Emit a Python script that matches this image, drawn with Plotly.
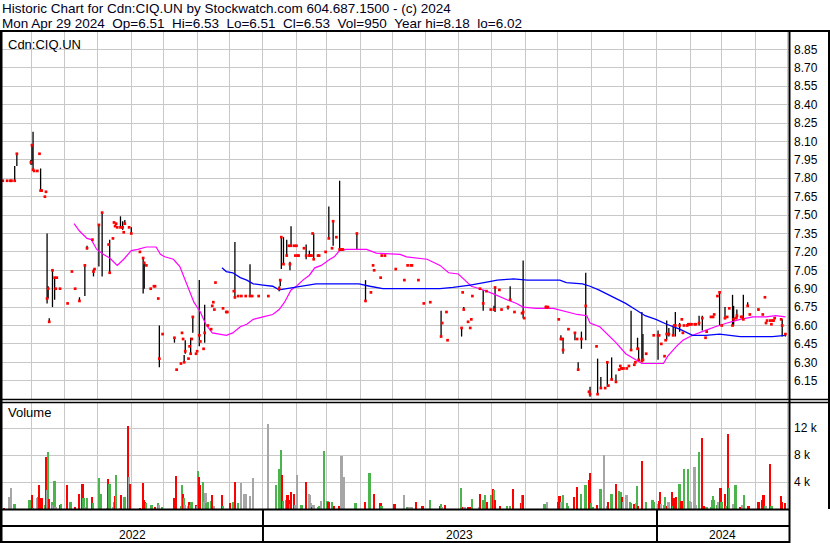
import pandas as pd
import plotly.graph_objects as go

W, H = 830, 543

# ---------------- data ----------------
close_dates = [
    "2022-05-05","2022-05-09","2022-05-12","2022-05-13","2022-05-16","2022-05-18","2022-05-31","2022-06-01","2022-06-02","2022-06-03",
    "2022-06-06","2022-06-08","2022-06-09","2022-06-10","2022-06-13","2022-06-14","2022-06-15","2022-06-16","2022-06-17","2022-06-20",
    "2022-06-22","2022-06-23","2022-06-24","2022-06-27","2022-07-04","2022-07-08","2022-07-11","2022-07-15","2022-07-20","2022-07-22",
    "2022-07-27","2022-07-28","2022-07-29","2022-08-02","2022-08-05","2022-08-11","2022-08-12","2022-08-15","2022-08-16","2022-08-17",
    "2022-08-18","2022-08-19","2022-08-22","2022-08-24","2022-08-25","2022-08-26","2022-08-30","2022-09-01","2022-09-09","2022-09-12",
    "2022-09-13","2022-09-15","2022-09-19","2022-09-22","2022-09-23","2022-09-26","2022-09-27","2022-09-30","2022-10-11","2022-10-13",
    "2022-10-17","2022-10-18","2022-10-19","2022-10-20","2022-10-21","2022-10-24","2022-10-25","2022-10-26","2022-10-27","2022-10-28",
    "2022-10-31","2022-11-01","2022-11-03","2022-11-04","2022-11-07","2022-11-08","2022-11-11","2022-11-14","2022-11-15","2022-11-16",
    "2022-11-17","2022-11-18","2022-11-25","2022-11-28","2022-11-29","2022-12-05","2022-12-06","2022-12-09","2022-12-12","2022-12-16",
    "2022-12-20","2022-12-22","2022-12-28",
    "2023-01-06","2023-01-16","2023-01-17","2023-01-18","2023-01-20","2023-01-23","2023-01-25","2023-01-26","2023-01-27","2023-01-30",
    "2023-01-31","2023-02-01","2023-02-02","2023-02-03","2023-02-08","2023-02-10","2023-02-13","2023-02-14","2023-02-15","2023-02-16",
    "2023-02-17","2023-02-21","2023-02-22","2023-02-28","2023-03-03","2023-03-06","2023-03-07","2023-03-10","2023-03-13","2023-03-14",
    "2023-03-15","2023-03-16","2023-03-29","2023-04-06","2023-04-11","2023-04-13","2023-04-14","2023-04-20","2023-04-21","2023-04-24",
    "2023-05-04","2023-05-12","2023-05-15","2023-05-18","2023-05-19","2023-05-25","2023-05-30","2023-06-05","2023-06-15","2023-06-16",
    "2023-06-20","2023-06-21","2023-07-04","2023-07-05","2023-07-06","2023-07-10","2023-07-12","2023-07-13","2023-07-14","2023-07-21",
    "2023-07-24","2023-07-27","2023-07-31","2023-08-03","2023-08-04","2023-08-08","2023-08-10","2023-08-16","2023-08-18","2023-08-22",
    "2023-08-29","2023-08-30","2023-08-31","2023-09-20","2023-09-21","2023-09-22","2023-10-02","2023-10-04","2023-10-05","2023-10-06",
    "2023-10-11","2023-10-17","2023-10-19","2023-10-20","2023-10-23","2023-10-27","2023-10-30","2023-10-31","2023-11-06","2023-11-07",
    "2023-11-10","2023-11-14","2023-11-16","2023-11-17","2023-11-20","2023-11-24","2023-11-27","2023-11-28","2023-11-29","2023-11-30",
    "2023-12-01","2023-12-04","2023-12-06","2023-12-08","2023-12-11","2023-12-12","2023-12-14","2023-12-15","2023-12-18","2023-12-19",
    "2023-12-22","2023-12-29",
    "2024-01-02","2024-01-03","2024-01-05","2024-01-08","2024-01-09","2024-01-10","2024-01-12","2024-01-16","2024-01-17","2024-01-18",
    "2024-01-22","2024-01-24","2024-01-25","2024-01-26","2024-01-29","2024-01-30","2024-01-31","2024-02-01","2024-02-02","2024-02-05",
    "2024-02-06","2024-02-09","2024-02-12","2024-02-15","2024-02-16","2024-02-20","2024-02-22","2024-02-23","2024-02-26","2024-02-28",
    "2024-03-01","2024-03-04","2024-03-06","2024-03-08","2024-03-11","2024-03-12","2024-03-14","2024-03-15","2024-03-19","2024-03-20",
    "2024-03-21","2024-03-25","2024-03-27","2024-04-04","2024-04-08","2024-04-10","2024-04-11","2024-04-12","2024-04-15","2024-04-16",
    "2024-04-17","2024-04-18","2024-04-19","2024-04-25","2024-04-26","2024-04-29",
]
close_prices = [
    7.78,7.78,7.78,7.78,7.78,8.00,7.93,8.07,7.87,7.86,
    7.86,8.00,7.70,7.70,7.65,7.69,6.82,6.90,6.63,7.05,
    6.99,6.90,6.99,6.90,6.78,7.04,6.90,6.80,7.09,7.23,
    7.30,7.04,7.06,7.42,7.52,7.26,7.03,7.31,7.44,7.41,
    7.43,7.40,7.40,7.40,7.36,7.43,7.40,7.35,7.20,7.15,
    7.11,7.09,6.90,6.92,6.92,6.82,6.33,6.53,6.50,6.24,
    6.29,6.54,6.49,6.30,6.39,6.33,6.43,6.37,6.49,6.67,
    6.37,6.39,6.52,6.47,6.41,6.54,6.60,6.57,6.76,6.79,
    6.73,6.95,6.74,6.71,6.71,6.88,6.83,6.84,6.84,6.84,
    6.84,6.84,6.84,
    6.84,6.90,6.97,7.32,7.10,7.17,7.25,7.10,7.25,7.25,
    7.17,7.25,7.17,7.17,7.23,7.17,7.17,7.17,7.17,7.35,
    7.14,7.17,7.17,7.20,7.31,7.23,7.45,7.32,7.22,7.22,
    7.22,7.22,7.35,6.80,6.87,7.09,7.05,6.99,7.17,7.17,
    7.06,6.97,7.09,7.09,7.09,6.97,6.78,6.79,6.51,6.62,
    6.71,6.48,6.58,6.87,6.73,6.63,6.58,6.65,6.84,6.90,
    6.78,6.88,6.73,6.73,6.91,6.89,6.73,6.75,6.81,6.71,
    6.70,6.71,6.66,6.75,6.75,6.75,6.65,6.49,6.49,6.40,
    6.57,6.54,6.49,6.24,6.49,6.76,6.06,6.04,6.43,6.04,
    6.09,6.09,6.30,6.11,6.16,6.14,6.24,6.27,6.25,6.25,
    6.25,6.25,6.27,6.40,6.28,6.30,6.41,6.32,6.31,6.32,
    6.37,6.52,
    6.52,6.52,6.45,6.35,6.48,6.53,6.53,6.52,6.60,6.60,
    6.60,6.65,6.54,6.60,6.60,6.61,6.61,6.61,6.61,6.61,
    6.61,6.62,6.66,6.50,6.55,6.67,6.67,6.69,6.84,6.87,
    6.60,6.66,6.67,6.74,6.60,6.65,6.66,6.68,6.67,6.67,
    6.65,6.76,6.69,6.73,6.69,6.83,6.62,6.64,6.64,6.61,
    6.64,6.64,6.66,6.65,6.60,6.53,
]

range_dates = [
    "2022-05-16","2022-05-18","2022-05-31","2022-06-01","2022-06-02","2022-06-09","2022-06-15","2022-06-16","2022-06-17","2022-06-20",
    "2022-06-22","2022-07-15","2022-07-20","2022-07-22","2022-07-28","2022-08-02","2022-08-05","2022-08-12","2022-08-22","2022-08-24",
    "2022-08-26","2022-09-01","2022-09-12","2022-09-13","2022-09-27","2022-10-11","2022-10-20","2022-10-21","2022-10-26","2022-10-28",
    "2022-11-03","2022-11-08","2022-12-06","2022-12-20",
    "2023-01-16","2023-01-17","2023-01-18","2023-01-20","2023-01-23","2023-01-26","2023-01-27","2023-02-10","2023-02-13","2023-02-17",
    "2023-03-03","2023-03-07","2023-03-13","2023-03-29","2023-04-06","2023-06-15","2023-07-04","2023-07-06","2023-07-24","2023-08-03",
    "2023-08-04","2023-08-16","2023-08-18","2023-08-30","2023-09-20","2023-10-04","2023-10-06","2023-10-17","2023-10-20","2023-10-23",
    "2023-10-27","2023-10-31","2023-11-07","2023-11-10","2023-11-16","2023-11-20","2023-11-24","2023-12-08","2023-12-14","2023-12-15",
    "2023-12-18","2023-12-19",
    "2024-01-02","2024-01-10","2024-01-12","2024-01-16","2024-01-18","2024-01-22","2024-02-09","2024-02-12","2024-02-28","2024-03-04",
    "2024-03-11","2024-03-12","2024-03-15","2024-03-21","2024-03-25","2024-04-04","2024-04-26","2024-04-29",
]
range_highs = [
    7.90,8.00,7.95,8.07,8.18,7.88,7.35,6.92,6.66,7.06,
    6.99,6.83,7.09,7.25,7.06,7.42,7.52,7.30,7.49,7.45,
    7.46,7.40,7.15,7.12,6.60,6.50,6.36,6.48,6.50,6.67,
    6.97,6.77,7.28,7.10,
    6.92,6.97,7.32,7.32,7.30,7.12,7.41,7.26,7.21,7.35,
    7.57,7.45,7.78,7.35,6.97,6.72,6.58,6.75,6.89,6.76,
    6.91,6.76,6.92,7.13,6.76,6.52,6.50,6.54,6.30,6.55,
    7.03,6.10,6.33,6.18,6.30,6.34,6.20,6.72,6.50,6.42,
    6.71,6.53,
    6.56,6.64,6.58,6.60,6.71,6.62,6.68,6.68,6.88,6.75,
    6.85,6.76,6.73,6.85,6.79,6.74,6.65,6.53,
]
range_lows = [
    7.78,7.90,7.91,7.91,7.87,7.70,6.78,6.82,6.63,6.75,
    6.81,6.80,6.84,7.22,7.00,7.08,7.00,7.03,7.40,7.38,
    7.42,7.35,6.86,6.90,6.26,6.46,6.30,6.37,6.36,6.54,
    6.43,6.46,6.82,6.84,
    6.88,6.92,7.06,7.10,7.17,7.05,7.25,7.14,7.17,7.14,
    7.31,7.25,7.22,7.22,6.80,6.51,6.51,6.73,6.72,6.72,
    6.71,6.73,6.81,6.66,6.74,6.49,6.37,6.48,6.24,6.41,
    6.48,6.02,6.04,6.09,6.10,6.16,6.14,6.40,6.41,6.32,
    6.31,6.32,
    6.32,6.48,6.51,6.52,6.51,6.55,6.60,6.56,6.60,6.65,
    6.60,6.60,6.65,6.65,6.76,6.72,6.51,6.51,
]

ma50_dates = [
    "2022-07-10","2022-07-15","2022-07-22","2022-07-26","2022-07-31","2022-08-06","2022-08-12","2022-08-19","2022-08-25","2022-09-01",
    "2022-09-07","2022-09-15","2022-09-24","2022-09-28","2022-10-02","2022-10-10","2022-10-16","2022-10-22","2022-10-29","2022-11-04",
    "2022-11-09","2022-11-15","2022-11-22","2022-11-28","2022-12-04","2022-12-11","2022-12-17","2022-12-23","2023-01-01","2023-01-10",
    "2023-01-16","2023-01-21","2023-01-27","2023-02-01","2023-02-07","2023-02-13","2023-02-18","2023-02-24","2023-03-04","2023-03-08",
    "2023-03-13","2023-03-19","2023-04-07","2023-04-16","2023-05-08","2023-05-14","2023-06-02","2023-06-14","2023-06-22","2023-07-01",
    "2023-07-07","2023-07-13","2023-07-21","2023-08-02","2023-08-15","2023-08-24","2023-08-30","2023-09-11","2023-09-27","2023-10-06",
    "2023-10-19","2023-10-28","2023-10-31","2023-11-09","2023-11-16","2023-11-24","2023-12-03","2023-12-12","2023-12-18","2023-12-29",
    "2024-01-07","2024-01-11","2024-01-19","2024-01-25","2024-02-03","2024-02-15","2024-02-24","2024-03-06","2024-03-18","2024-03-30",
    "2024-04-11","2024-04-20","2024-04-29",
]
ma50_values = [
    7.43,7.37,7.31,7.30,7.22,7.18,7.15,7.09,7.14,7.21,
    7.22,7.24,7.24,7.18,7.16,7.14,7.08,6.94,6.79,6.71,
    6.61,6.54,6.53,6.52,6.54,6.59,6.61,6.65,6.67,6.69,
    6.73,6.79,6.89,6.92,6.97,7.01,7.07,7.09,7.14,7.16,
    7.21,7.22,7.22,7.19,7.18,7.16,7.14,7.09,7.03,7.02,
    6.97,6.92,6.90,6.86,6.81,6.78,6.75,6.74,6.74,6.72,
    6.69,6.68,6.62,6.59,6.53,6.46,6.37,6.32,6.29,6.29,
    6.29,6.35,6.43,6.48,6.52,6.56,6.59,6.62,6.65,6.67,
    6.67,6.68,6.67,
]

ma200_dates = [
    "2022-11-24","2022-11-28","2022-12-04","2022-12-11","2022-12-17","2022-12-23","2023-01-01","2023-01-10","2023-01-16","2023-01-29",
    "2023-02-10","2023-02-19","2023-03-04","2023-03-13","2023-03-31","2023-04-10","2023-04-22","2023-05-11","2023-05-27","2023-06-14",
    "2023-06-26","2023-07-12","2023-07-31","2023-08-06","2023-08-21","2023-09-03","2023-10-03","2023-10-09","2023-10-24","2023-10-31",
    "2023-11-08","2023-11-15","2023-11-24","2023-12-03","2023-12-12","2023-12-21","2023-12-31","2024-01-10","2024-01-22","2024-02-03",
    "2024-02-15","2024-02-28","2024-03-18","2024-04-02","2024-04-17","2024-04-29",
]
ma200_values = [
    7.07,7.04,7.03,6.99,6.97,6.94,6.93,6.92,6.89,6.91,
    6.93,6.94,6.94,6.94,6.94,6.92,6.90,6.90,6.90,6.90,
    6.91,6.93,6.96,6.97,6.98,6.97,6.97,6.95,6.94,6.92,
    6.89,6.86,6.82,6.78,6.73,6.68,6.65,6.61,6.57,6.52,
    6.52,6.53,6.51,6.51,6.51,6.52,
]

vol_dates = [
    "2022-05-06","2022-05-11","2022-05-13","2022-05-16","2022-05-30","2022-05-31","2022-06-01","2022-06-02","2022-06-06","2022-06-07",
    "2022-06-08","2022-06-09","2022-06-10","2022-06-13","2022-06-14","2022-06-15","2022-06-16","2022-06-17","2022-06-20","2022-06-21",
    "2022-06-22","2022-06-23","2022-06-27","2022-06-28","2022-07-04","2022-07-07","2022-07-11","2022-07-15","2022-07-18","2022-07-19",
    "2022-07-20","2022-07-22","2022-07-27","2022-07-28","2022-08-02","2022-08-04","2022-08-10","2022-08-11","2022-08-12","2022-08-15",
    "2022-08-16","2022-08-17","2022-08-18","2022-08-22","2022-08-23","2022-08-26","2022-08-29","2022-08-30","2022-08-31","2022-09-09",
    "2022-09-12","2022-09-13","2022-09-14","2022-09-15","2022-09-20","2022-09-23","2022-09-26","2022-09-27","2022-09-30","2022-10-11",
    "2022-10-13","2022-10-17","2022-10-18","2022-10-19","2022-10-20","2022-10-21","2022-10-24","2022-10-25","2022-10-26","2022-10-27",
    "2022-10-31","2022-11-01","2022-11-02","2022-11-03","2022-11-04","2022-11-07","2022-11-08","2022-11-09","2022-11-10","2022-11-11",
    "2022-11-14","2022-11-15","2022-11-17","2022-11-24","2022-11-25","2022-12-02","2022-12-05","2022-12-06","2022-12-09","2022-12-12",
    "2022-12-15","2022-12-16","2022-12-20","2022-12-23",
    "2023-01-06","2023-01-13","2023-01-16","2023-01-17","2023-01-18","2023-01-19","2023-01-20","2023-01-23","2023-01-24","2023-01-25",
    "2023-01-26","2023-01-27","2023-01-30","2023-01-31","2023-02-02","2023-02-06","2023-02-10","2023-02-13","2023-02-14","2023-02-15",
    "2023-02-16","2023-02-17","2023-02-21","2023-02-22","2023-02-24","2023-02-27","2023-03-02","2023-03-03","2023-03-06","2023-03-08",
    "2023-03-13","2023-03-15","2023-03-17","2023-03-28","2023-04-06","2023-04-10","2023-04-14","2023-04-20","2023-04-21","2023-05-03",
    "2023-05-12","2023-05-15","2023-05-17","2023-05-19","2023-05-23","2023-05-29","2023-06-05","2023-06-14","2023-06-15","2023-06-16",
    "2023-06-19","2023-07-04","2023-07-05","2023-07-06","2023-07-07","2023-07-10","2023-07-12","2023-07-14","2023-07-20","2023-07-21",
    "2023-07-24","2023-07-26","2023-07-28","2023-08-01","2023-08-02","2023-08-03","2023-08-04","2023-08-09","2023-08-15","2023-08-18",
    "2023-08-21","2023-08-28","2023-08-29","2023-08-30","2023-09-19","2023-09-21","2023-10-02","2023-10-03","2023-10-04","2023-10-06",
    "2023-10-10","2023-10-11","2023-10-16","2023-10-19","2023-10-23","2023-10-27","2023-10-30","2023-10-31","2023-11-01","2023-11-03",
    "2023-11-07","2023-11-10","2023-11-13","2023-11-16","2023-11-17","2023-11-20","2023-11-24","2023-11-27","2023-11-29","2023-11-30",
    "2023-12-01","2023-12-04","2023-12-07","2023-12-08","2023-12-11","2023-12-12","2023-12-13","2023-12-14","2023-12-15","2023-12-18",
    "2023-12-22","2023-12-28","2023-12-29",
    "2024-01-02","2024-01-03","2024-01-04","2024-01-05","2024-01-08","2024-01-09","2024-01-11","2024-01-12","2024-01-15","2024-01-16",
    "2024-01-17","2024-01-19","2024-01-22","2024-01-24","2024-01-26","2024-01-30","2024-02-01","2024-02-02","2024-02-05","2024-02-06",
    "2024-02-09","2024-02-12","2024-02-14","2024-02-16","2024-02-20","2024-02-21","2024-02-22","2024-02-23","2024-02-26","2024-02-27",
    "2024-02-29","2024-03-01","2024-03-04","2024-03-05","2024-03-07","2024-03-08","2024-03-12","2024-03-14","2024-03-18","2024-03-20",
    "2024-03-22","2024-03-26","2024-04-04","2024-04-05","2024-04-08","2024-04-09","2024-04-10","2024-04-11","2024-04-15","2024-04-16",
    "2024-04-17","2024-04-25","2024-04-26","2024-04-29",
]
vol_values = [
    100,1800,3100,750,1300,1300,2100,100,1700,1800,
    3600,600,1600,600,7700,2800,8400,1500,1000,600,
    4200,350,600,750,3600,1000,300,2300,3700,1700,
    350,1700,1800,950,4600,2200,100,4500,3700,350,
    1100,2000,5100,100,2100,1800,12400,4800,3700,100,
    3800,1300,1100,850,600,300,850,600,350,1600,
    4900,450,3500,2200,1700,600,400,1100,600,1000,
    600,500,5700,4800,3500,4000,1100,2400,850,1100,
    1200,2100,450,2100,450,850,1000,4000,900,3800,
    2200,2200,2000,4600,
    12600,3500,6000,2000,8800,5100,1200,1300,2100,1300,
    750,2500,2200,600,5000,600,4000,2200,2100,850,
    350,600,350,450,1200,8600,1200,1000,1100,450,
    450,7900,4800,850,1000,5300,2200,850,450,750,
    2100,350,350,200,1000,450,1300,450,750,350,
    600,3100,300,300,200,200,250,1500,300,2300,
    1300,2100,1000,2100,3000,2800,1300,450,450,450,
    3000,850,2100,2100,700,1000,1000,1900,1000,2100,
    850,450,1800,3200,2200,3600,4300,5400,850,350,
    600,2900,8000,450,1100,2200,3700,2700,2500,1800,
    1100,2100,1000,850,750,450,850,3400,400,7100,
    1000,1300,1000,
    750,1200,2500,700,600,1800,450,1000,2600,450,
    1600,1800,3700,1200,6000,6000,1200,1000,6200,600,
    8400,10600,450,350,350,1300,2000,1300,600,1000,
    3100,1100,2200,450,11100,3100,750,3600,350,600,
    2100,450,1100,1000,1300,2100,450,450,6700,450,
    450,1900,1000,950,
]
vol_direction = [
    "d","n","n","u","u","u","d","n","n","u",
    "d","d","d","u","d","n","u","d","u","n",
    "u","n","d","u","d","u","d","d","d","u",
    "n","u","d","u","u","u","n","d","u","n",
    "u","d","u","n","d","u","d","n","d","d",
    "d","d","d","u","u","d","u","n","u","d",
    "d","u","u","d","u","n","n","d","u","u",
    "d","n","u","d","d","u","n","n","u","u",
    "u","d","n","d","u","d","u","d","u","n",
    "n","n","n","n",
    "n","u","u","u","u","d","u","u","d","d",
    "u","d","d","n","n","u","d","n","n","n",
    "d","n","u","u","n","u","u","d","u","d",
    "d","n","n","u","d","u","d","d","u","d",
    "n","u","n","n","d","d","u","d","u","n",
    "d","u","u","d","n","d","d","u","n","d",
    "u","u","d","u","d","u","d","d","u","u",
    "d","d","u","d","u","n","d","d","n","u",
    "u","u","d","d","u","u","d","d","u","u",
    "d","u","n","n","d","u","d","u","u","d",
    "n","n","u","u","d","d","n","u","d","d",
    "u","u","u",
    "n","d","d","n","u","u","d","n","d","u",
    "d","d","u","d","u","u","n","n","n","n",
    "u","d","d","u","u","u","u","u","u","n",
    "d","u","d","u","d","u","n","u","d","n",
    "u","d","d","d","d","d","u","n","d","u",
    "u","d","d","d",
]

price_ticks = [6.15, 6.30, 6.45, 6.60, 6.75, 6.90, 7.05, 7.20, 7.35, 7.50,
               7.65, 7.80, 7.95, 8.10, 8.25, 8.40, 8.55, 8.70, 8.85]
price_tick_labels = ["6.15", "6.30", "6.45", "6.60", "6.75", "6.90", "7.05", "7.20", "7.35", "7.50",
                     "7.65", "7.80", "7.95", "8.10", "8.25", "8.40", "8.55", "8.70", "8.85"]
vol_ticks = [4000, 8000, 12000]
vol_tick_labels = ["4 k", "8 k", "12 k"]
year_labels = ["2022", "2023", "2024"]

header_line1 = "Historic Chart for Cdn:CIQ.UN by Stockwatch.com 604.687.1500 - (c) 2024"
header_line2 = ("Mon Apr 29 2024 \u00a0Op=6.51 \u00a0Hi=6.53 \u00a0Lo=6.51 \u00a0Cl=6.53 "
                "\u00a0Vol=950 \u00a0Year hi=8.18 \u00a0lo=6.02")
symbol_label = "Cdn:CIQ.UN"

# ---------------- styling / geometry ----------------
FONT = "Liberation Sans, Arial, Helvetica, sans-serif"
GRID = "#c8c8c8"
DIR_COLORS = {"u": "#4cb44c", "d": "#ff0000", "n": "#a6a6a6"}
x_start = pd.Timestamp("2022-05-04 05:45")
x_end = pd.Timestamp("2024-05-02 07:12")
DAY_MS = 86400000


def py(p):
    return 1 - p / H


def px(p):
    return p / W


fig = go.Figure()

# high-low bars
bx, by = [], []
for d, hi, lo in zip(range_dates, range_highs, range_lows):
    bx += [d, d, None]
    by += [lo, hi, None]
fig.add_trace(go.Scatter(x=bx, y=by, mode="lines", line=dict(color="black", width=1.3),
                         hoverinfo="skip", xaxis="x", yaxis="y"))
fig.add_trace(go.Scatter(x=ma50_dates, y=ma50_values, mode="lines",
                         line=dict(color="#ff00ff", width=1.2), xaxis="x", yaxis="y"))
fig.add_trace(go.Scatter(x=ma200_dates, y=ma200_values, mode="lines",
                         line=dict(color="#0000ff", width=1.3), xaxis="x", yaxis="y"))
fig.add_trace(go.Scatter(x=close_dates, y=close_prices, mode="markers",
                         marker=dict(symbol="square", size=2.7, color="#ff0000", line=dict(width=0)),
                         xaxis="x", yaxis="y"))
fig.add_trace(go.Bar(x=vol_dates, y=vol_values,
                     marker=dict(color=[DIR_COLORS[d] for d in vol_direction], line=dict(width=0)),
                     width=1.6 * DAY_MS, xaxis="x2", yaxis="y2"))

xcommon = dict(type="date", range=[x_start, x_end], dtick="M1", tick0="2022-01-01",
               showgrid=True, gridcolor=GRID, gridwidth=1, showticklabels=False,
               zeroline=False, showline=False, ticks="")
fig.update_layout(
    width=W, height=H, margin=dict(l=0, r=0, t=0, b=0),
    paper_bgcolor="white", plot_bgcolor="white", showlegend=False,
    font=dict(family=FONT, size=12, color="black"),
    xaxis=dict(domain=[px(2), px(789)], anchor="y", **xcommon),
    xaxis2=dict(domain=[px(2), px(789)], anchor="y2", matches="x", **xcommon),
    yaxis=dict(domain=[py(399), py(32)], range=[6.0008, 8.9926], side="right", anchor="x",
               tickvals=price_ticks, ticktext=price_tick_labels, showgrid=True, gridcolor=GRID,
               zeroline=False, showline=False, ticks="", ticklabelstandoff=4,
               tickfont=dict(size=12, family=FONT, color="black")),
    yaxis2=dict(domain=[py(509), py(402)], range=[0, 15900], side="right", anchor="x2",
                tickvals=vol_ticks, ticktext=vol_tick_labels, showgrid=True, gridcolor=GRID,
                zeroline=False, showline=False, ticks="", ticklabelstandoff=4,
                tickfont=dict(size=12, family=FONT, color="black")),
    bargap=0,
)

# frame lines (paper coordinates)
def hline(y, x0, x1, w=2):
    fig.add_shape(type="line", xref="paper", yref="paper", x0=px(x0), x1=px(x1), y0=py(y), y1=py(y),
                  line=dict(color="black", width=w))


def vline(x, y0, y1, w=2):
    fig.add_shape(type="line", xref="paper", yref="paper", x0=px(x), x1=px(x), y0=py(y0), y1=py(y1),
                  line=dict(color="black", width=w))


hline(31, 0, W)
hline(399.5, 0, W, 1.5)
hline(402.5, 0, W, 1.5)
hline(509.5, 0, 790)
hline(526, 0, 790)
hline(542, 0, 790)
vline(1, 31, H, 3)
vline(789.5, 31, H)
vline(829, 31, 509)

# year separators on the date axis
for yr in ["2023-01-01", "2024-01-01"]:
    fig.add_shape(type="line", xref="x2", yref="paper", x0=yr, x1=yr, y0=py(543), y1=py(510),
                  line=dict(color="black", width=2))

bounds = [x_start, pd.Timestamp("2023-01-01"), pd.Timestamp("2024-01-01"), x_end]
for i, lab in enumerate(year_labels):
    mid = bounds[i] + (bounds[i + 1] - bounds[i]) / 2
    fig.add_annotation(x=mid, y=py(534.5), xref="x2", yref="paper", text=lab, showarrow=False,
                       xanchor="center", yanchor="middle", font=dict(size=12, family=FONT, color="black"))

fig.add_annotation(x=0, y=py(9), xref="paper", yref="paper", text=header_line1, showarrow=False,
                   xanchor="left", yanchor="middle", font=dict(size=13.5, family=FONT, color="#000020"))
fig.add_annotation(x=0, y=py(23), xref="paper", yref="paper", text=header_line2, showarrow=False,
                   xanchor="left", yanchor="middle", font=dict(size=13.5, family=FONT, color="#000020"))
fig.add_annotation(x=px(6), y=py(44), xref="paper", yref="paper", text=symbol_label, showarrow=False,
                   xanchor="left", yanchor="middle", font=dict(size=13, family=FONT, color="black"))
fig.add_annotation(x=px(6), y=py(413), xref="paper", yref="paper", text="Volume", showarrow=False,
                   xanchor="left", yanchor="middle", font=dict(size=13, family=FONT, color="black"))

fig.write_html("out.html", config={"displayModeBar": False},
               post_script="document.body.style.margin='0';document.body.style.padding='0';")
